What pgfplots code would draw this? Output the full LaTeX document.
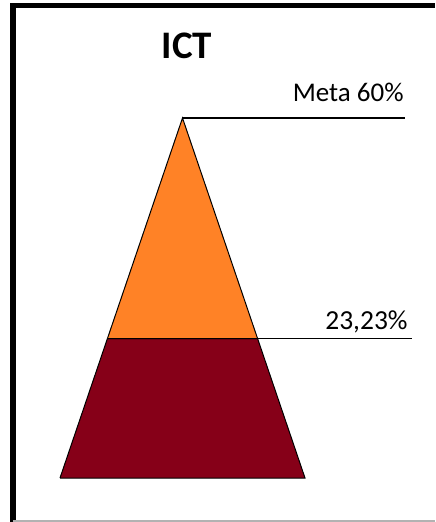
\documentclass[border=0pt]{standalone}
\usepackage{pgfplots}
\pgfplotsset{compat=1.18}
\usepackage{fontspec}
\setmainfont{Carlito}
\definecolor{ictorange}{RGB}{255,130,38}
\definecolor{ictred}{RGB}{134,0,24}
\begin{document}
\begin{tikzpicture}
\begin{axis}[
    width=217.5pt,
    height=261pt,
    scale only axis,
    xmin=0, xmax=435,
    ymin=-7.333, ymax=79.667,
    axis lines=none,
    clip=false
]
% lower part: achieved 23,23 %
\addplot[fill=ictred,draw=black,line width=0.5pt] coordinates {
    (60,0) (305,0) (257.6,23.23) (107.4,23.23) (60,0)
};
% upper part: up to the 60 % goal
\addplot[fill=ictorange,draw=black,line width=0.5pt] coordinates {
    (107.4,23.23) (257.6,23.23) (182.5,60) (107.4,23.23)
};
% leader lines
\addplot[black,line width=0.6pt] coordinates {(182.5,60) (405,60)};
\addplot[black,line width=0.6pt] coordinates {(257.6,23.23) (412,23.23)};
\node[anchor=base east,font=\fontsize{13.5pt}{15pt}\selectfont,inner sep=0pt]
    at (axis cs:404,62.67) {Meta 60\%};
\node[anchor=base east,font=\fontsize{13.75pt}{15pt}\selectfont,inner sep=0pt]
    at (axis cs:408,24.67) {23,23\%};
\node[anchor=base,font=\fontsize{19.5pt}{22pt}\selectfont\bfseries,inner sep=0pt]
    at (axis cs:187,70) {ICT};
% frame
\draw[black,line width=2.8pt] (axis cs:13,-7.333) -- (axis cs:13,78.75) -- (axis cs:435,78.75);
\draw[gray!60,line width=0.6pt] (axis cs:13,-7.17) -- (axis cs:435,-7.17);
\end{axis}
\pgfresetboundingbox
\path (0,0) rectangle (217.5pt,261pt);
\end{tikzpicture}
\end{document}
